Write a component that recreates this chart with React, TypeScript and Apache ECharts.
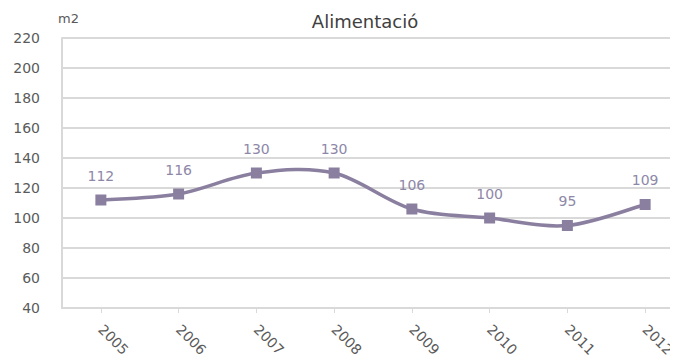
import React, { useEffect, useRef } from "react";
import * as echarts from "echarts";

const categories = ["2005", "2006", "2007", "2008", "2009", "2010", "2011", "2012"];
const values = [112, 116, 130, 130, 106, 100, 95, 109];
const titleText = "Alimentació";
const unitText = "m2";

const LINE_COLOR = "#8b7fa0";

export default function App() {
  const ref = useRef<HTMLDivElement>(null);
  useEffect(() => {
    if (!ref.current) return;
    const chart = echarts.init(ref.current, null, { renderer: "svg" });
    const font = "DejaVu Sans";
    const n = values.length;
    const clampIdx = (k: number) => Math.max(0, Math.min(n - 1, k));
    chart.setOption({
      animation: false,
      backgroundColor: "#ffffff",
      textStyle: { fontFamily: font },
      title: {
        text: titleText,
        left: 360,
        top: 7,
        textAlign: "center",
        textStyle: { fontFamily: font, fontSize: 18, fontWeight: "normal", color: "#404040" },
      },
      graphic: [
        {
          type: "text",
          left: 58,
          top: 12,
          style: { text: unitText, fontFamily: font, fontSize: 13, fill: "#595959" },
        },
      ],
      grid: { left: 62, top: 38, bottom: 56, right: 0, containLabel: false },
      xAxis: {
        type: "category",
        data: categories,
        boundaryGap: true,
        axisLine: { show: true, lineStyle: { color: "#d9d9d9", width: 2 } },
        axisTick: { show: true, alignWithLabel: true, length: 5, lineStyle: { color: "#d9d9d9" } },
        axisLabel: { rotate: -45, fontSize: 14, color: "#5a5a5a", fontFamily: font, margin: 19 },
      },
      yAxis: {
        type: "value",
        min: 40,
        max: 220,
        interval: 20,
        axisLine: { show: true, lineStyle: { color: "#d9d9d9", width: 2 } },
        axisTick: { show: false },
        axisLabel: { fontSize: 14, color: "#5a5a5a", fontFamily: font, margin: 22 },
        splitLine: { show: true, lineStyle: { color: "#d9d9d9", width: 2 } },
      },
      series: [
        {
          type: "custom",
          coordinateSystem: "cartesian2d",
          data: categories.map((c, i) => [i, values[i]]),
          encode: { x: 0, y: 1 },
          z: 1,
          silent: true,
          renderItem: (params: any, api: any) => {
            const i = params.dataIndex;
            if (i >= n - 1) return null;
            const p = (k: number) => {
              const j = clampIdx(k);
              return api.coord([j, values[j]]);
            };
            const p0 = p(i - 1);
            const p1 = p(i);
            const p2 = p(i + 1);
            const p3 = p(i + 2);
            return {
              type: "bezierCurve",
              shape: {
                x1: p1[0],
                y1: p1[1],
                x2: p2[0],
                y2: p2[1],
                cpx1: p1[0] + (p2[0] - p0[0]) / 6,
                cpy1: p1[1] + (p2[1] - p0[1]) / 6,
                cpx2: p2[0] - (p3[0] - p1[0]) / 6,
                cpy2: p2[1] - (p3[1] - p1[1]) / 6,
              },
              style: { stroke: LINE_COLOR, lineWidth: 3.5, fill: null },
            };
          },
        },
        {
          type: "line",
          data: values,
          z: 3,
          symbol: "rect",
          symbolSize: 11,
          lineStyle: { width: 0, opacity: 0 },
          itemStyle: { color: LINE_COLOR },
          label: {
            show: true,
            position: "top",
            distance: 12,
            fontSize: 14,
            color: "#8e88a8",
            fontFamily: font,
          },
        },
      ],
    });
    return () => chart.dispose();
  }, []);
  return (
    <div style={{ width: 678, height: 364, margin: -8, overflow: "hidden" }}>
      <div ref={ref} style={{ width: 684, height: 364 }} />
    </div>
  );
}
